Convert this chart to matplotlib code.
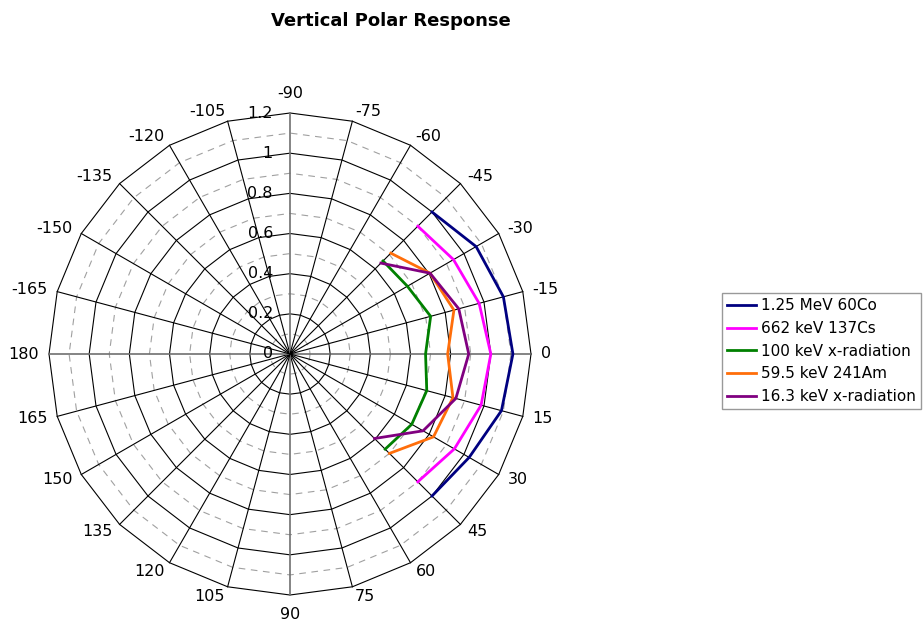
import numpy as np
import matplotlib
matplotlib.use("Agg")
import matplotlib.pyplot as plt

# category angles (degrees) on the chart and the measured series
grid_angles = [0, 15, 30, 45, 60, 75, 90, 105, 120, 135, 150, 165, 180,
               -165, -150, -135, -120, -105, -90, -75, -60, -45, -30, -15]
angles = [-45, -30, -15, 0, 15, 30, 45]
co60 = [1.00, 1.07, 1.10, 1.11, 1.09, 1.03, 1.00]
cs137 = [0.90, 0.94, 0.975, 1.00, 0.985, 0.945, 0.90]
x100 = [0.655, 0.675, 0.725, 0.675, 0.705, 0.70, 0.67]
am241 = [0.71, 0.805, 0.845, 0.785, 0.84, 0.825, 0.70]
x16 = [0.64, 0.805, 0.87, 0.89, 0.855, 0.765, 0.595]
names = ["1.25 MeV 60Co", "662 keV 137Cs", "100 keV x-radiation",
         "59.5 keV 241Am", "16.3 keV x-radiation"]
colors = ["#000080", "#ff00ff", "#008000", "#ff6e0a", "#800080"]
r_ticks = [0, 0.2, 0.4, 0.6, 0.8, 1, 1.2]
r_minor = [0.1, 0.3, 0.5, 0.7, 0.9, 1.1]

fig = plt.figure(figsize=(9.23, 6.26), dpi=100)
ax = fig.add_axes([49/923, 31/626, 482/923, 482/626], projection="polar")
ax.set_theta_zero_location("E")
ax.set_theta_direction(-1)
ax.set_ylim(0, 1.2)
ax.grid(False)
ax.spines["polar"].set_visible(False)
ax.set_xticks([])
ax.set_yticks([])

th = np.deg2rad(np.array(grid_angles + [grid_angles[0]], dtype=float))

# polygon rings
for r in r_minor:
    ax.plot(th, [r]*len(th), color="#a0a0a0", lw=0.8, ls=(0, (6, 5)), clip_on=False, zorder=1)
for r in r_ticks[1:]:
    ax.plot(th, [r]*len(th), color="black", lw=0.8, clip_on=False, zorder=2)

# spokes
for a in grid_angles:
    if a % 90 == 0:
        ax.plot([np.deg2rad(a)]*2, [0, 1.2], color="#707070", lw=1.2, clip_on=False, zorder=2)
    else:
        ax.plot([np.deg2rad(a)]*2, [0, 1.2], color="black", lw=0.8, clip_on=False, zorder=2)

# series
for vals, name, c in zip([co60, cs137, x100, am241, x16], names, colors):
    ax.plot(np.deg2rad(angles), vals, color=c, lw=2.0, label=name, zorder=3, clip_on=False)

# category labels
for a in grid_angles:
    t = np.deg2rad(a)
    cx, sy = np.cos(t), -np.sin(t)
    if abs(cx) < 0.1:
        ha = "center"
        va = "bottom" if sy > 0 else "top"
        off = (0, 12 * np.sign(sy))
    else:
        ha = "left" if cx > 0 else "right"
        va = "center"
        off = (10 * cx, 10 * sy)
    ax.annotate(str(a), xy=(t, 1.2), xytext=off, textcoords="offset pixels",
                ha=ha, va=va, fontsize=11.5, annotation_clip=False)

# radial labels
for r in r_ticks:
    ax.annotate("%g" % r, xy=(np.deg2rad(-90), r), xytext=(-17, 0),
                textcoords="offset pixels", ha="right", va="center",
                fontsize=11.5, annotation_clip=False, zorder=4)

fig.text(391/923, 1 - 21/626, "Vertical Polar Response", ha="center", va="center",
         fontsize=13, fontweight="bold")

leg = ax.legend(loc="upper left", bbox_to_anchor=(722/923, 1 - 293/626),
                bbox_transform=fig.transFigure, fontsize=11, frameon=True,
                fancybox=False, borderaxespad=0, handlelength=1.9,
                handletextpad=0.3, labelspacing=0.5, borderpad=0.35)
leg.get_frame().set_edgecolor("#808080")
leg.get_frame().set_linewidth(1.0)

fig.savefig("out.png", dpi=100)
